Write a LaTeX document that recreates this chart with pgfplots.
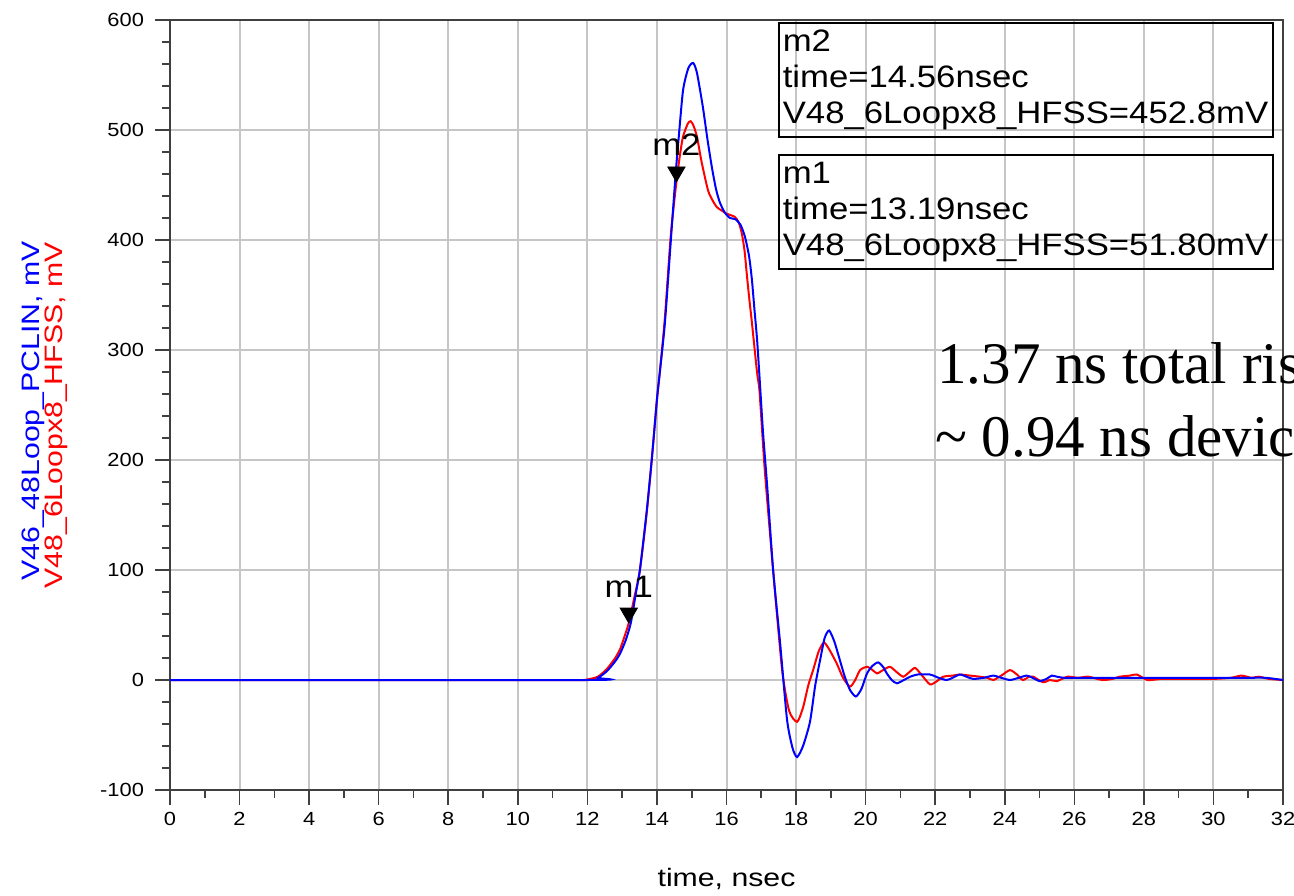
\documentclass[border=0pt]{standalone}
\usepackage{fontspec}
\setmainfont{Liberation Sans}
\newfontfamily\tickfam{Liberation Sans}[FakeStretch=1.15]
\newfontfamily\markfam{Liberation Sans}[FakeStretch=1.12]
\newfontfamily\labfam{Liberation Sans}[FakeStretch=1.2]
\newfontfamily\seriffam{Liberation Serif}
\usepackage{pgfplots}
\pgfplotsset{compat=1.18}

\begin{document}
\begin{tikzpicture}[x=1pt,y=1pt]
\begin{axis}[
  at={(85pt,52.5pt)}, anchor=south west,
  scale only axis, width=556.5pt, height=385pt,
  xmin=0, xmax=32, ymin=-100, ymax=600,
  xtick={0,2,...,32}, ytick={-100,0,...,600},
  minor x tick num=1, minor y tick num=4,
  tick align=outside, tick pos=left,
  major tick length=7.5pt, minor tick length=4pt,
  grid=major,
  major grid style={gray!45, line width=1pt},
  axis line style={black!75, line width=1.2pt},
  every tick/.style={black!75, line width=0.8pt},
  /pgf/number format/assume math mode=true,
  tick label style={font=\tickfam\fontsize{9.5}{10.5}\selectfont},
  yticklabel style={xshift=-2pt},
  clip=false,
]
% markers (drawn first, curves over them)
\addplot[only marks, mark=triangle*, mark size=5pt,
  mark options={fill=black, draw=black, yshift=5pt, rotate=180},
  nodes near coords, point meta=explicit symbolic,
  every node near coord/.style={font=\markfam\fontsize{15.5}{18}\selectfont, anchor=base, yshift=8pt, inner sep=0pt}]
  coordinates {(13.19,51.8) [m1] (14.56,452.8) [m2]};

% V48_6Loopx8_HFSS (red)
\addplot[red, line width=1pt, smooth, tension=0.4] coordinates {
(0,0)(11.8,0)(12.0,0.5)(12.3,3)(12.56,10)(12.8,20)(12.94,28)(13.05,38)(13.19,51.8)(13.35,75)
(13.51,100)(13.7,150)(13.85,200)(14.0,255)(14.09,282)(14.23,330)(14.4,405)(14.56,452.8)(14.66,477)
(14.75,494)(14.89,506)(14.97,508)(15.05,504)(15.15,494)(15.29,470)(15.47,445)(15.6,436)(15.72,430)
(15.85,427)(16.0,424)(16.24,421)(16.35,416)(16.44,406)(16.52,390)(16.58,370)(16.65,348)(16.73,325)
(16.88,279)(16.95,262)(17.1,191)(17.34,100)(17.6,9)(17.8,-28)(18.03,-38)(18.2,-25)(18.35,-5)
(18.49,9)(18.65,26)(18.8,34)(18.95,28)(19.17,15)(19.35,2)(19.55,-6)(19.7,0)(19.84,9)(20.04,12)
(20.2,9)(20.33,6)(20.5,9)(20.7,12)(20.9,7)(21.08,3)(21.25,7)(21.42,11)(21.6,5)(21.85,-4)(22.05,-1)
(22.23,3)(22.5,4)(22.71,5)(23.0,4)(23.29,3)(23.5,2)(23.67,0)(23.9,4)(24.15,9)(24.35,5)(24.52,0)
(24.7,3)(24.82,3)(25.1,-2)(25.3,0)(25.5,-1)(25.8,3)(26.1,2)(26.4,3)(26.8,0)(27.1,1)(27.3,3)(27.6,4)
(27.8,5)(28.1,0)(28.5,1)(29,1)(29.5,1)(30,1)(30.5,2)(30.8,4)(31.1,2)(31.3,3)(31.6,1)(32,0)
};

% V46_48Loop_PCLIN (blue)
\addplot[blue, line width=1pt, smooth, tension=0.4] coordinates {
(0,0)(12.0,0)(12.3,2)(12.56,8)(12.8,17)(12.94,24)(13.1,36)(13.25,52)(13.4,80)(13.51,100)(13.7,152)
(13.85,200)(14.0,255)(14.09,282)(14.23,325)(14.4,400)(14.54,461)(14.62,491)(14.75,536)(14.9,556)
(15.04,561)(15.15,552)(15.32,521)(15.45,492)(15.58,466)(15.7,446)(15.81,434)(15.95,425)(16.1,420)
(16.25,419)(16.4,414)(16.53,403)(16.65,385)(16.73,364)(16.8,338)(16.88,309)(16.96,270)(17.05,225)
(17.17,176)(17.34,100)(17.54,34)(17.74,-36)(17.9,-62)(18.03,-70)(18.2,-60)(18.4,-38)(18.55,-5)
(18.69,18)(18.82,38)(18.95,45)(19.1,35)(19.26,18)(19.4,3)(19.55,-9)(19.72,-15)(19.88,-8)(20.04,6)
(20.2,13)(20.36,16)(20.5,12)(20.61,6)(20.75,0)(20.9,-3)(21.1,0)(21.28,3)(21.5,5)(21.85,5)(22.1,2)
(22.33,0)(22.5,2)(22.71,5)(22.9,3)(23.09,1)(23.4,2)(23.67,4)(23.9,2)(24.15,0)(24.4,2)(24.63,4)
(24.8,2)(25.0,-1)(25.2,1)(25.35,4)(25.5,3)(25.7,2)(26.0,2)(27,2)(28,2)(29,2)(30,2)(31,2)(31.5,2)(32,0)
};

% marker readout boxes
\node[draw=black, line width=0.8pt, anchor=north west, text width=243pt, align=left,
  inner sep=2pt, minimum height=57pt, font=\markfam\fontsize{15.5}{18}\selectfont]
  at (axis cs:17.48,598.2) {m2\\time=14.56nsec\\V48\_6Loopx8\_HFSS=452.8mV};
\node[draw=black, line width=0.8pt, anchor=north west, text width=243pt, align=left,
  inner sep=2pt, minimum height=57pt, font=\markfam\fontsize{15.5}{18}\selectfont]
  at (axis cs:17.48,478.2) {m1\\time=13.19nsec\\V48\_6Loopx8\_HFSS=51.80mV};

% overlay annotation
\node[font=\seriffam\fontsize{29.5}{36}\selectfont, anchor=base west, inner sep=0pt]
  at (axis cs:22.05,270) {1.37 ns total rise time};
\node[font=\seriffam\fontsize{29.5}{36}\selectfont, anchor=base west, inner sep=0pt]
  at (axis cs:21.99,203.6) {\textasciitilde{} 0.94 ns device rise time};

% axis labels
\node[font=\labfam\fontsize{12.6}{14}\selectfont, anchor=base, inner sep=0pt]
  at (axis cs:16,-188) {time, nsec};
\node[font=\labfam\fontsize{12.6}{14}\selectfont, text=blue, rotate=90, anchor=base, inner sep=0pt]
  at (axis cs:-3.74,244.5) {V46\_48Loop\_PCLIN, mV};
\node[font=\labfam\fontsize{12.6}{14}\selectfont, text=red, rotate=90, anchor=base, inner sep=0pt]
  at (axis cs:-3.08,240.5) {V48\_6Loopx8\_HFSS, mV};
\end{axis}
\pgfresetboundingbox
\path[use as bounding box] (0,0) rectangle (647pt,447.5pt);
\end{tikzpicture}
\end{document}
